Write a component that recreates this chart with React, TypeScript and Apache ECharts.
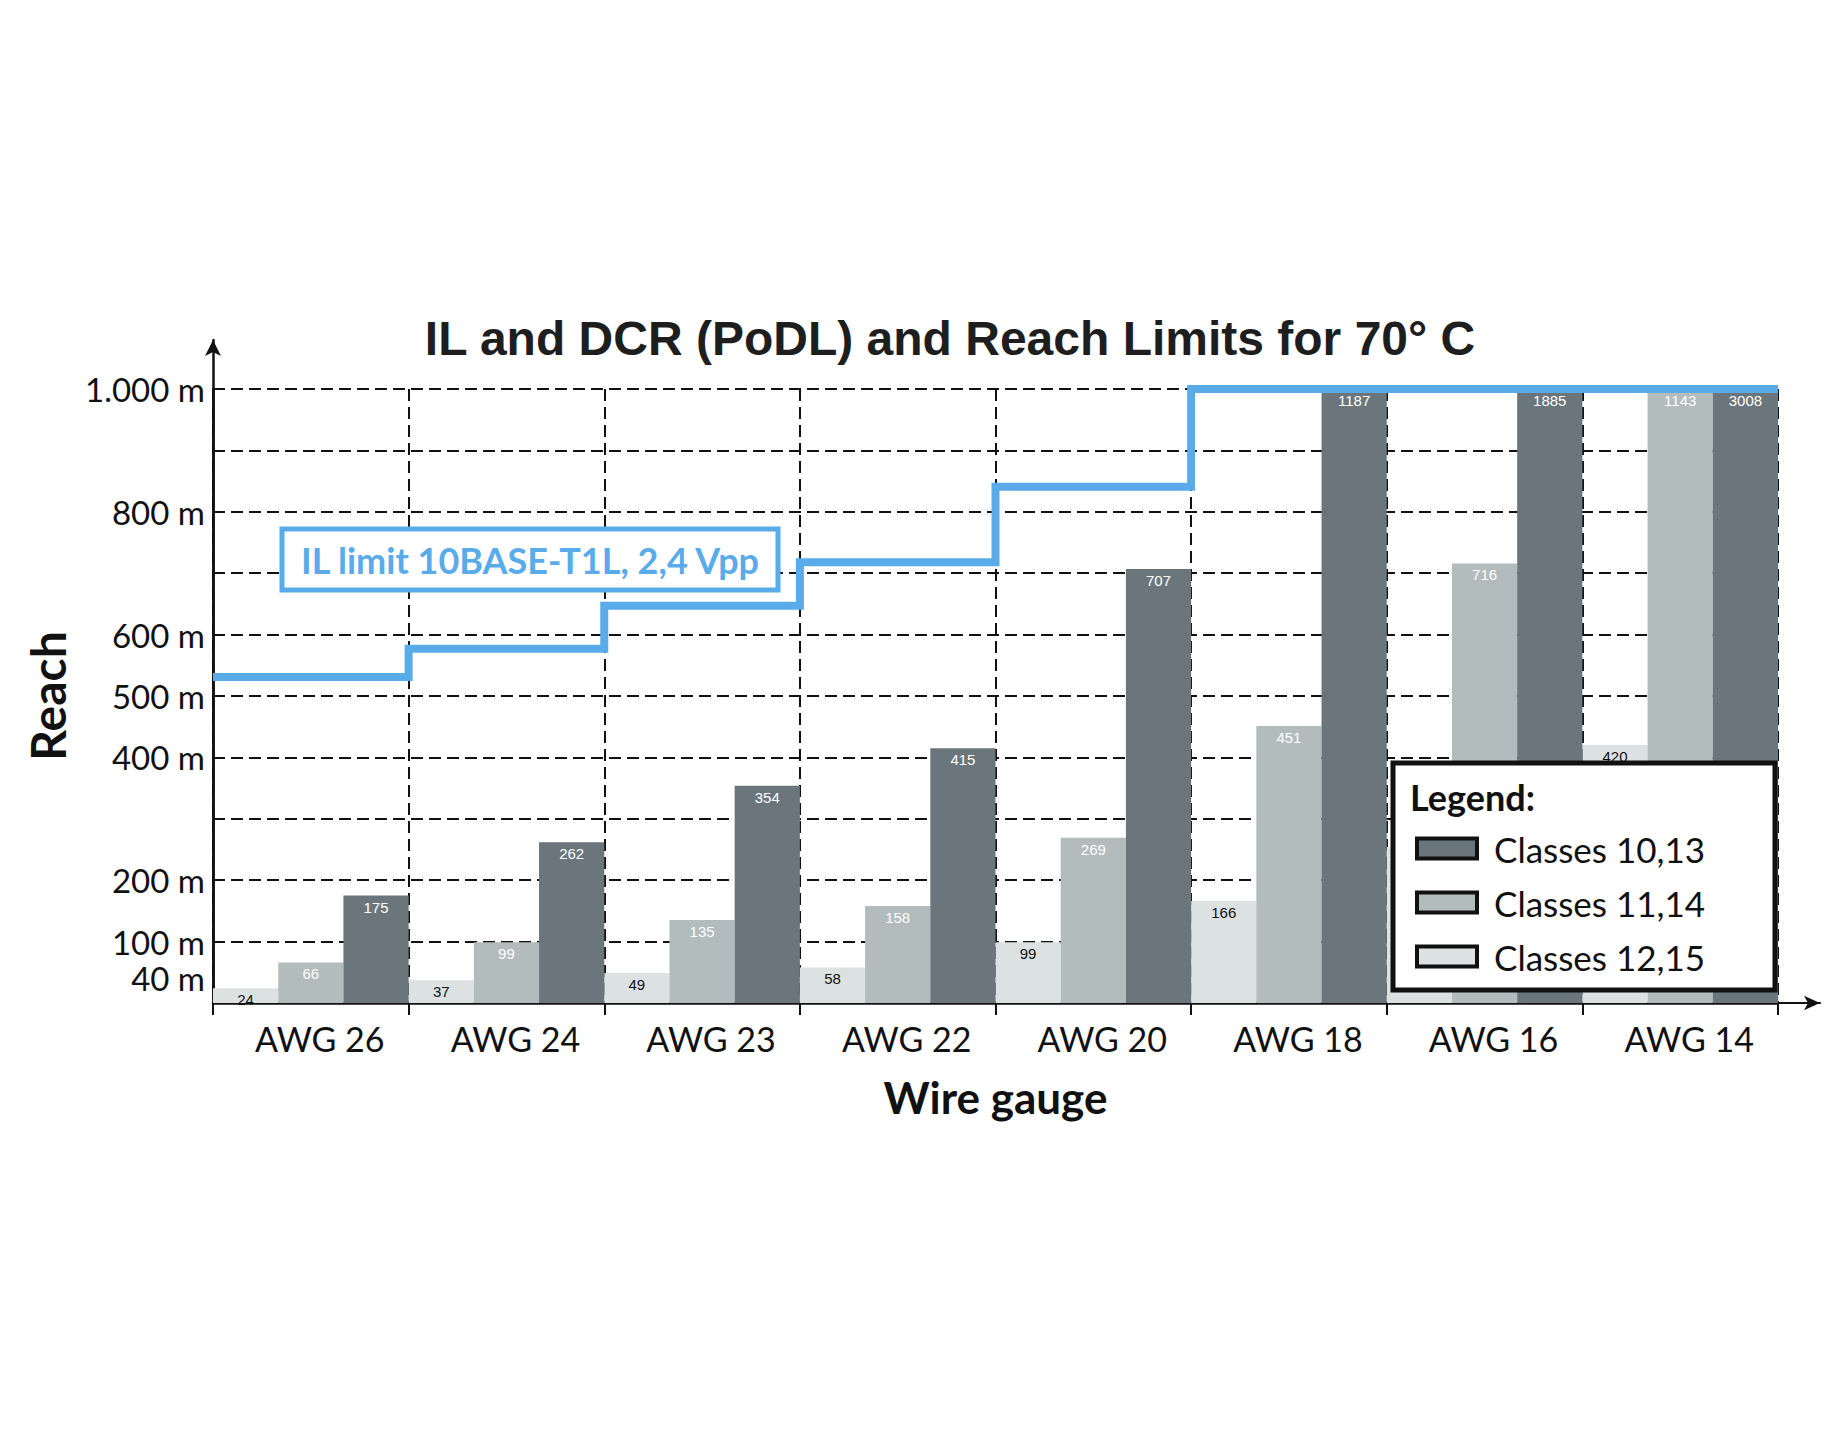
import React, { useEffect, useRef } from "react";
import * as echarts from "echarts";

const categories = ["AWG 26", "AWG 24", "AWG 23", "AWG 22", "AWG 20", "AWG 18", "AWG 16", "AWG 14"];
const classes12_15 = [24, 37, 49, 58, 99, 166, 254, 420];
const classes11_14 = [66, 99, 135, 158, 269, 451, 716, 1143];
const classes10_13 = [175, 262, 354, 415, 707, 1187, 1885, 3008];
const ilLimit = [531, 577, 647, 718, 841, 1000, 1000, 1000];
const yTickLabels = [40, 100, 200, 400, 500, 600, 800, 1000];
const legendNames = ["Classes 10,13", "Classes 11,14", "Classes 12,15"];
const Y_MAX = 1000;

const COL_DARK = "#6b767c";
const COL_MID = "#b3bcbd";
const COL_LIGHT = "#dce1e1";
const COL_BLUE = "#5aabea";
const CAL = "Lato, 'Noto Sans', sans-serif";

const fmtY = (v: number) => String(v).replace(/\B(?=(\d{3})+(?!\d))/g, ".") + " m";

function barSeries(name: string, values: number[], color: string, labelColor: string) {
  return {
    type: "bar",
    name,
    xAxisIndex: 0,
    yAxisIndex: 0,
    barGap: "0%",
    barCategoryGap: "0%",
    itemStyle: { color },
    data: values.map((v) => Math.min(v, Y_MAX)),
    label: {
      show: true,
      position: "insideTop",
      distance: 4,
      color: labelColor,
      fontFamily: "'Liberation Sans', Arial, sans-serif",
      fontSize: 15,
      formatter: (p: any) => String(values[p.dataIndex]),
    },
    z: 2,
  };
}

export default function App() {
  const ref = useRef<HTMLDivElement>(null);
  useEffect(() => {
    if (!ref.current) return;
    const chart = echarts.init(ref.current, undefined, { renderer: "svg" });
    const ilPoints: number[][] = [];
    ilLimit.forEach((v, i) => {
      ilPoints.push([i, v]);
      ilPoints.push([i + 1, v]);
    });
    const option: any = {
      animation: false,
      backgroundColor: "#ffffff",
      title: {
        text: "IL and DCR (PoDL) and Reach Limits for 70° C",
        left: 950,
        top: 314,
        padding: 0,
        textAlign: "center",
        textStyle: {
          fontFamily: "'Liberation Sans Narrow', 'Liberation Sans', Arial, sans-serif",
          fontWeight: "bold",
          fontSize: 48,
          color: "#1e1e1e",
        },
      },
      grid: [
        { left: 213, right: 69, top: 389, bottom: 427, containLabel: false },
        { left: 213, right: 27, top: 340, bottom: 427, containLabel: false },
      ],
      xAxis: [
        {
          type: "category",
          gridIndex: 0,
          data: categories,
          boundaryGap: true,
          axisLine: { show: true, lineStyle: { color: "#111", width: 2.5 } },
          axisTick: { show: true, interval: 0, length: 12, lineStyle: { color: "#111", width: 2 } },
          axisLabel: {
            interval: 0,
            margin: 18,
            fontFamily: CAL,
            fontSize: 34,
            color: "#111",
            padding: [0, 0, 0, 18],
          },
          splitLine: { show: true, interval: 0, lineStyle: { color: "#111", width: 2, type: [12, 6] } },
          name: "Wire gauge",
          nameLocation: "middle",
          nameGap: 72,
          nameTextStyle: { fontFamily: CAL, fontWeight: "bold", fontSize: 44, color: "#111" },
        },
        {
          type: "value",
          gridIndex: 1,
          min: 0,
          max: 1,
          axisLine: { show: true, symbol: ["none", "arrow"], symbolSize: [11, 16], lineStyle: { color: "#111", width: 2 } },
          axisTick: { show: false },
          axisLabel: { show: false },
          splitLine: { show: false },
        },
        {
          type: "value",
          gridIndex: 0,
          min: 0,
          max: categories.length,
          show: false,
          splitLine: { show: false },
        },
      ],
      yAxis: [
        {
          type: "value",
          gridIndex: 0,
          min: 0,
          max: Y_MAX,
          interval: 100,
          axisLine: { show: true, lineStyle: { color: "#111", width: 2.5 } },
          axisTick: { show: false },
          axisLabel: {
            customValues: yTickLabels,
            formatter: (v: number) => fmtY(v),
            margin: 8,
            fontFamily: CAL,
            fontSize: 33,
            lineHeight: 33,
            color: "#111",
          },
          splitLine: { show: true, showMinLine: false, lineStyle: { color: "#111", width: 2, type: [12, 6] } },
          name: "Reach",
          nameLocation: "middle",
          nameRotate: 90,
          nameGap: 142,
          nameTextStyle: { fontFamily: CAL, fontWeight: "bold", fontSize: 48, color: "#111" },
        },
        {
          type: "value",
          gridIndex: 1,
          min: 0,
          max: 1,
          axisLine: { show: true, symbol: ["none", "arrow"], symbolSize: [12, 16], lineStyle: { color: "#111", width: 2.5 } },
          axisTick: { show: false },
          axisLabel: { show: false },
          splitLine: { show: false },
        },
      ],
      legend: {
        show: true,
        data: legendNames,
        orient: "vertical",
        left: 1415,
        top: 831,
        padding: 0,
        itemWidth: 60,
        itemHeight: 20,
        itemGap: 19,
        icon: "rect",
        itemStyle: { borderColor: "#111", borderWidth: 4 },
        textStyle: { fontFamily: CAL, fontSize: 35, color: "#111", lineHeight: 34, padding: [0, 0, 0, 12] },
        selectedMode: false,
        z: 30,
      },
      graphic: [
        {
          type: "rect",
          z: 20,
          shape: { x: 282, y: 529, width: 496, height: 61 },
          style: { fill: "#ffffff", stroke: COL_BLUE, lineWidth: 5 },
        },
        {
          type: "text",
          z: 21,
          x: 530,
          y: 560,
          style: {
            text: "IL limit 10BASE-T1L, 2,4 Vpp",
            fill: COL_BLUE,
            font: `bold 36px ${CAL}`,
            align: "center",
            verticalAlign: "middle",
          },
        },
        {
          type: "rect",
          z: 25,
          shape: { x: 1393, y: 763, width: 382, height: 227 },
          style: { fill: "#ffffff", stroke: "#111", lineWidth: 5 },
        },
        {
          type: "text",
          z: 26,
          x: 1410,
          y: 797,
          style: {
            text: "Legend:",
            fill: "#111",
            font: `bold 36px ${CAL}`,
            align: "left",
            verticalAlign: "middle",
          },
        },
      ],
      series: [
        barSeries("Classes 12,15", classes12_15, COL_LIGHT, "#111"),
        barSeries("Classes 11,14", classes11_14, COL_MID, "#ffffff"),
        barSeries("Classes 10,13", classes10_13, COL_DARK, "#ffffff"),
        {
          type: "line",
          name: "IL limit 10BASE-T1L, 2,4 Vpp",
          xAxisIndex: 2,
          yAxisIndex: 0,
          data: ilPoints,
          symbol: "none",
          clip: false,
          lineStyle: { color: COL_BLUE, width: 8, join: "miter" },
          z: 5,
        },
      ],
    };
    chart.setOption(option);
    return () => chart.dispose();
  }, []);
  return (
    <div
      ref={ref}
      style={{ position: "absolute", left: 0, top: 0, width: 1847, height: 1430, background: "#fff" }}
    />
  );
}
